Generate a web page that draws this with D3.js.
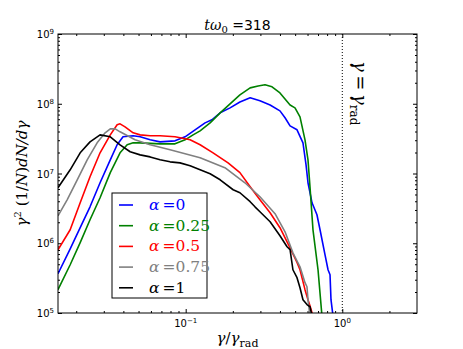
<!DOCTYPE html>
<html>
<head>
<meta charset="utf-8">
<script src="https://cdn.jsdelivr.net/npm/d3@7"></script>
<style>
  body { margin: 0; background: #fff; }
  .tick line { stroke: #000; }
</style>
</head>
<body>
<script>
// alpha values of the five runs, and their colours
const alphaLabels = ["0", "0.25", "0.5", "0.75", "1"];
const colors = ["#0000ff", "#008000", "#ff0000", "#808080", "#000000"];

// spectra: x = gamma/gamma_rad, y = gamma^2 (1/N) dN/dgamma
const blueX = [0.0153, 0.0183, 0.0212, 0.0245, 0.0284, 0.0330, 0.0365, 0.0398, 0.0462, 0.0512, 0.0593, 0.0686, 0.0855, 0.0991, 0.1148, 0.133, 0.147, 0.166, 0.192, 0.222, 0.258, 0.298, 0.346, 0.400, 0.431, 0.464, 0.514, 0.561, 0.587, 0.604, 0.641, 0.689, 0.721, 0.776, 0.811, 0.835, 0.847, 0.873];
const blueY = [3.66e5, 8.3e5, 1.67e6, 3.33e6, 7.36e6, 1.57e7, 2.58e7, 3.36e7, 3.47e7, 3.36e7, 3.04e7, 2.84e7, 2.94e7, 3.36e7, 4.23e7, 5.32e7, 5.88e7, 7.41e7, 8.73e7, 1.06e8, 1.22e8, 1.10e8, 9.6e7, 7.91e7, 6.29e7, 4.82e7, 4.23e7, 2.75e7, 1.33e7, 7.36e6, 3.80e6, 2.56e6, 1.56e6, 6.8e5, 4.17e5, 3.54e5, 1.55e5, 9.0e4];

const greenX = [0.0153, 0.0183, 0.0212, 0.0245, 0.0284, 0.0330, 0.0381, 0.0423, 0.0462, 0.0512, 0.0686, 0.0855, 0.0991, 0.1115, 0.1236, 0.1432, 0.166, 0.192, 0.222, 0.258, 0.290, 0.321, 0.356, 0.400, 0.464, 0.499, 0.537, 0.578, 0.604, 0.622, 0.650, 0.700, 0.742];
const greenY = [2.16e5, 4.92e5, 1.02e6, 2.17e6, 4.49e6, 1.03e7, 1.98e7, 2.58e7, 2.75e7, 2.75e7, 2.66e7, 2.66e7, 3.04e7, 3.58e7, 4.09e7, 5.32e7, 7.41e7, 9.97e7, 1.34e8, 1.69e8, 1.80e8, 1.87e8, 1.75e8, 1.43e8, 9.6e7, 8.73e7, 6.49e7, 3.04e7, 1.57e7, 6.45e6, 1.56e6, 4.17e5, 9.0e4];

const redX = [0.0153, 0.0183, 0.0212, 0.0245, 0.0284, 0.0330, 0.0365, 0.0381, 0.0410, 0.0462, 0.0512, 0.0593, 0.0686, 0.0855, 0.1067, 0.1236, 0.1496, 0.1865, 0.222, 0.258, 0.298, 0.346, 0.400, 0.464, 0.514, 0.537, 0.578, 0.604, 0.622, 0.650];
const redY = [8.07e5, 1.56e6, 3.80e6, 8.98e6, 1.98e7, 3.58e7, 4.99e7, 5.15e7, 4.67e7, 3.83e7, 3.58e7, 3.47e7, 3.47e7, 3.36e7, 3.04e7, 2.58e7, 1.98e7, 1.42e7, 1.03e7, 6.45e6, 4.20e6, 2.74e6, 1.67e6, 8.6e5, 5.3e5, 4.17e5, 2.16e5, 1.55e5, 1.27e5, 9.0e4];

const grayX = [0.0153, 0.0175, 0.0203, 0.0235, 0.0272, 0.0306, 0.0330, 0.0355, 0.0381, 0.0475, 0.0593, 0.0795, 0.1236, 0.178, 0.239, 0.298, 0.372, 0.431, 0.484, 0.537, 0.578, 0.595, 0.604, 0.622];
const grayY = [2.48e6, 4.20e6, 8.13e6, 1.57e7, 2.75e7, 3.83e7, 4.37e7, 4.37e7, 3.96e7, 3.04e7, 2.58e7, 2.19e7, 1.68e7, 1.21e7, 7.36e6, 4.64e6, 2.65e6, 1.46e6, 7.3e5, 4.6e5, 2.72e5, 2.38e5, 1.55e5, 9.0e4];

const blackX = [0.0153, 0.0183, 0.0212, 0.0245, 0.0284, 0.0330, 0.0381, 0.0442, 0.0512, 0.0593, 0.0686, 0.0795, 0.092, 0.1067, 0.1236, 0.1432, 0.166, 0.201, 0.222, 0.258, 0.277, 0.298, 0.346, 0.400, 0.444, 0.464, 0.484, 0.514, 0.537, 0.561, 0.595, 0.622, 0.641];
const blackY = [6.24e6, 1.13e7, 1.98e7, 2.84e7, 3.58e7, 3.36e7, 2.58e7, 2.05e7, 1.85e7, 1.73e7, 1.57e7, 1.47e7, 1.42e7, 1.29e7, 1.13e7, 9.9e6, 8.13e6, 5.85e6, 5.30e6, 3.94e6, 3.33e6, 2.83e6, 2.03e6, 1.28e6, 8.9e5, 8.1e5, 4.17e5, 3.21e5, 2.30e5, 1.55e5, 1.32e5, 1.23e5, 9.0e4];

const xMajor = [0.1, 1];
const yMajor = [1e5, 1e6, 1e7, 1e8, 1e9];
const xMajorExp = ["\u22121", "0"];
const yMajorExp = ["5", "6", "7", "8", "9"];
const titleValue = "318";

const width = 463;
const height = 349;
const margin = {top: 34, right: 46, bottom: 36, left: 58};
const iw = width - margin.left - margin.right;
const ih = height - margin.top - margin.bottom;

const serif = "'DejaVu Serif', serif";
const sans = "'DejaVu Sans', sans-serif";

const x = d3.scaleLog().domain([0.0153, 3.0]).range([0, iw]);
const y = d3.scaleLog().domain([1e5, 1e9]).range([ih, 0]);

const series = [
  {xs: blueX, ys: blueY},
  {xs: greenX, ys: greenY},
  {xs: redX, ys: redY},
  {xs: grayX, ys: grayY},
  {xs: blackX, ys: blackY}
].map((s, i) => ({
  label: alphaLabels[i],
  color: colors[i],
  points: s.xs.map((v, j) => [v, s.ys[j]])
}));

const svg = d3.select("body").append("svg")
  .attr("width", width)
  .attr("height", height)
  .style("display", "block");

svg.append("defs").append("clipPath").attr("id", "plotclip")
  .append("rect").attr("width", iw).attr("height", ih);

const g = svg.append("g").attr("transform", `translate(${margin.left},${margin.top})`);

// minor tick values for each decade
function minors(lo, hi, dom) {
  const out = [];
  for (let e = lo; e <= hi; e++) {
    for (let k = 2; k <= 9; k++) {
      const v = k * Math.pow(10, e);
      if (v > dom[0] && v < dom[1]) out.push(v);
    }
  }
  return out;
}
const xMinor = minors(-2, 0, x.domain());
const yMinor = minors(5, 8, y.domain());

function addAxis(axis, tr) {
  const a = g.append("g").attr("transform", tr).call(axis);
  a.select(".domain").remove();
  a.selectAll(".tick text").remove();
  return a;
}
addAxis(d3.axisBottom(x).tickValues(xMajor).tickSize(-4).tickSizeOuter(0), `translate(0,${ih})`);
addAxis(d3.axisBottom(x).tickValues(xMinor).tickSize(-2).tickSizeOuter(0), `translate(0,${ih})`);
addAxis(d3.axisTop(x).tickValues(xMajor).tickSize(-4).tickSizeOuter(0), "translate(0,0)");
addAxis(d3.axisTop(x).tickValues(xMinor).tickSize(-2).tickSizeOuter(0), "translate(0,0)");
addAxis(d3.axisLeft(y).tickValues(yMajor).tickSize(-4).tickSizeOuter(0), "translate(0,0)");
addAxis(d3.axisLeft(y).tickValues(yMinor).tickSize(-2).tickSizeOuter(0), "translate(0,0)");
addAxis(d3.axisRight(y).tickValues(yMajor).tickSize(-4).tickSizeOuter(0), `translate(${iw},0)`);
addAxis(d3.axisRight(y).tickValues(yMinor).tickSize(-2).tickSizeOuter(0), `translate(${iw},0)`);

// tick labels as 10^n
xMajor.forEach((v, i) => {
  const t = g.append("text")
    .attr("x", x(v))
    .attr("y", ih + 14)
    .attr("text-anchor", "middle")
    .style("font-family", sans)
    .style("font-size", "10px");
  t.append("tspan").text("10");
  t.append("tspan").attr("dy", -4).style("font-size", "7px").text(xMajorExp[i]);
});
yMajor.forEach((v, i) => {
  const t = g.append("text")
    .attr("x", -4)
    .attr("y", y(v) + 4)
    .attr("text-anchor", "end")
    .style("font-family", sans)
    .style("font-size", "10px");
  t.append("tspan").text("10");
  t.append("tspan").attr("dy", -4).style("font-size", "7px").text(yMajorExp[i]);
});

// gamma = gamma_rad marker
g.append("line")
  .attr("x1", x(1)).attr("x2", x(1))
  .attr("y1", 0).attr("y2", ih)
  .attr("stroke", "#000")
  .attr("stroke-width", 1)
  .attr("stroke-dasharray", "1,2");

const ann = g.append("text")
  .attr("transform", `translate(${x(1) + 12},${27}) rotate(90)`)
  .style("font-family", serif)
  .style("font-size", "18px");
ann.append("tspan").style("font-style", "italic").text("\u03b3");
ann.append("tspan").text("\u2009=\u2009");
ann.append("tspan").style("font-style", "italic").text("\u03b3");
ann.append("tspan").attr("dy", 4).style("font-size", "12px").text("rad");

// curves
const line = d3.line()
  .x(d => x(d[0]))
  .y(d => y(d[1]));

g.append("g").attr("clip-path", "url(#plotclip)")
  .selectAll("path")
  .data(series)
  .join("path")
    .attr("d", d => line(d.points))
    .attr("fill", "none")
    .attr("stroke", d => d.color)
    .attr("stroke-width", 1.6)
    .attr("stroke-linejoin", "round");

// frame
g.append("rect")
  .attr("width", iw).attr("height", ih)
  .attr("fill", "none")
  .attr("stroke", "#000")
  .attr("stroke-width", 1);

// legend
const lg = g.append("g").attr("transform", `translate(${112 - margin.left},${193 - margin.top})`);
lg.append("rect")
  .attr("width", 95).attr("height", 105)
  .attr("fill", "#fff")
  .attr("stroke", "#000")
  .attr("stroke-width", 1);
series.forEach((s, i) => {
  const ry = 12 + i * 20.7;
  lg.append("line")
    .attr("x1", 7).attr("x2", 21)
    .attr("y1", ry).attr("y2", ry)
    .attr("stroke", s.color)
    .attr("stroke-width", 1.6);
  const t = lg.append("text")
    .attr("x", 37).attr("y", ry + 5)
    .attr("fill", s.color)
    .style("font-family", serif)
    .style("font-size", "15.5px");
  t.append("tspan").style("font-style", "italic").text("\u03b1");
  t.append("tspan").text("\u2009=" + s.label);
});

// title
const title = svg.append("text")
  .attr("x", margin.left + iw / 2)
  .attr("y", 30)
  .attr("text-anchor", "middle")
  .style("font-size", "14px");
title.append("tspan").style("font-family", serif).style("font-style", "italic").text("t\u03c9");
title.append("tspan").style("font-family", serif).attr("dy", 3).style("font-size", "10px").text("0");
title.append("tspan").style("font-family", serif).attr("dy", -3).text(" =");
title.append("tspan").style("font-family", sans).text(titleValue);

// axis labels
const xl = svg.append("text")
  .attr("x", margin.left + iw / 2)
  .attr("y", 343)
  .attr("text-anchor", "middle")
  .style("font-family", serif)
  .style("font-size", "15px");
xl.append("tspan").style("font-style", "italic").text("\u03b3");
xl.append("tspan").text("/");
xl.append("tspan").style("font-style", "italic").text("\u03b3");
xl.append("tspan").attr("dy", 4).style("font-size", "11px").text("rad");

const yl = svg.append("text")
  .attr("transform", `translate(27,${margin.top + ih / 2}) rotate(-90)`)
  .attr("text-anchor", "middle")
  .style("font-family", serif)
  .style("font-size", "15px");
yl.append("tspan").style("font-style", "italic").text("\u03b3");
yl.append("tspan").attr("dy", -6).style("font-size", "10px").text("2");
yl.append("tspan").attr("dy", 6).text(" (1/");
yl.append("tspan").style("font-style", "italic").text("N");
yl.append("tspan").text(")");
yl.append("tspan").style("font-style", "italic").text("dN/d\u03b3");
</script>
</body>
</html>
